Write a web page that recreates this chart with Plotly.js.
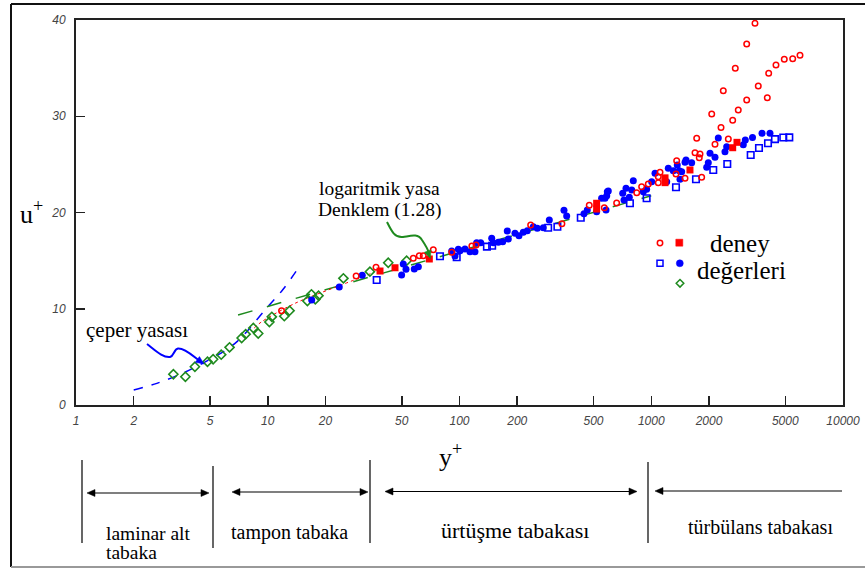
<!DOCTYPE html>
<html>
<head>
<meta charset="utf-8">
<script src="https://cdn.plot.ly/plotly-3.0.1.min.js"></script>
<style>html,body{margin:0;padding:0;background:#fff}</style>
</head>
<body>
<div id="chart" style="width:865px;height:569px"></div>
<script>
// ---- data (y+, u+) ----
const xTickVals = [1, 2, 5, 10, 20, 50, 100, 200, 500, 1000, 2000, 5000, 10000];
const xTickText = ["1", "2", "5", "10", "20", "50", "100", "200", "500", "1000", "2000", "5000", "10000"];
const yTickVals = [0, 10, 20, 30, 40];

const wallLawX = [2.0, 2.64, 3.5, 4.6, 6.75, 9.67, 12.0, 14.4];
const wallLawY = [1.56, 2.25, 3.2, 4.36, 6.41, 9.87, 12.0, 14.2];

const logLawX = [7.0, 1000];
const logLawY = [9.35, 21.75];

const redDashX = [8.5, 9.3, 13.9, 23, 35];
const redDashY = [8.0, 8.65, 10.57, 12.3, 13.7];

const greenX = [3.22, 3.72, 4.17, 4.85, 5.19, 5.72, 6.32, 7.31, 7.67, 8.41, 8.92, 10.2, 10.5, 12.2, 13.0, 16.1, 16.9, 17.7, 18.4, 24.8, 34.1, 42.5, 53.0];
const greenY = [3.19, 2.94, 3.97, 4.49, 4.75, 5.23, 5.99, 6.96, 7.36, 8.0, 7.43, 8.62, 9.16, 9.23, 9.8, 10.8, 11.5, 10.98, 11.36, 13.16, 13.85, 14.78, 14.99];

const blueFillX = [16.95, 23.6, 31.1, 49.9, 50.9, 52.6, 58.1, 61.0, 91.1, 94.7, 98.6, 100.6, 106.8, 113.4, 120.4, 122.9, 129, 147.2, 150, 159.4, 168, 177.5, 179.7, 194.7, 204.3, 215.1, 225.7, 242.6, 254.5, 273.5, 294, 350.7, 362.2, 445.9, 463.9, 519, 551, 586, 597, 581, 574, 590, 710, 738.5, 806, 791, 768.5, 721, 909, 946, 1005, 1046, 1204, 1227, 1303, 1367, 1400, 1441, 1412, 1500, 1518, 1625, 1946, 1984, 2025, 2150, 2237, 2424, 2474, 3020, 3094, 3373, 3781, 4161];
const blueFillY = [10.91, 12.26, 13.47, 13.51, 14.65, 14.1, 14.13, 14.37, 16.0, 15.48, 16.18, 16.03, 16.21, 15.93, 15.93, 16.86, 16.86, 17.32, 16.86, 16.9, 16.97, 18.08, 17.25, 17.84, 17.59, 17.94, 18.11, 18.52, 18.36, 18.42, 19.22, 20.23, 19.64, 19.88, 20.26, 20.08, 21.48, 21.75, 22.23, 20.26, 21.48, 22.16, 22.0, 22.51, 23.3, 22.34, 21.58, 21.3, 22.16, 22.41, 23.2, 24.07, 23.2, 24.59, 24.34, 24.94, 24.34, 24.24, 23.45, 25.22, 25.45, 25.17, 24.7, 25.17, 26.15, 25.74, 27.74, 26.32, 26.84, 27.04, 27.53, 27.79, 28.23, 28.23];

const blueOpenX = [37.0, 79.1, 96.7, 139, 148, 290, 324, 429, 774, 946, 1346, 1711, 2106, 2492, 3301, 3646, 4063, 4418, 4882, 5248];
const blueOpenY = [12.99, 15.45, 15.35, 16.45, 16.55, 18.42, 18.52, 19.46, 20.96, 21.48, 22.62, 23.45, 24.42, 25.04, 25.97, 26.7, 27.19, 27.62, 27.79, 27.81];

const redOpenX = [11.8, 28.9, 36.7, 57.4, 61.7, 64.7, 73.0, 91.1, 116, 122, 235, 342, 475, 569, 660, 840, 891, 965, 1088, 1088, 1111, 1346, 1357, 1500, 1691, 1796, 1780, 1832, 1726, 2067, 2150, 2311, 2375, 2523, 2659, 2743, 2843, 3146, 3146, 3475, 3615, 4029, 4097, 4472, 4940, 5466, 5967];
const redOpenY = [9.8, 13.4, 14.31, 15.24, 15.51, 15.51, 16.14, 15.86, 16.52, 16.62, 18.7, 18.84, 20.75, 20.5, 20.99, 22.06, 22.68, 22.96, 23.1, 23.72, 24.18, 24.0, 25.38, 23.55, 26.21, 26.08, 25.69, 23.66, 27.71, 30.23, 27.09, 28.83, 32.65, 27.64, 29.58, 34.98, 30.65, 37.5, 31.69, 39.66, 33.14, 31.93, 34.46, 35.32, 35.92, 35.98, 36.33];

const redFillX = [38.5, 46.1, 69.6, 519, 519, 1180, 1180, 1592, 2659, 2800];
const redFillY = [13.92, 14.26, 15.17, 20.96, 20.36, 23.6, 23.1, 24.42, 26.73, 27.29];

// ---- layout geometry (pixels of the 865x569 page) ----
const W = 865, H = 569;
const L = 76, R = 843, T = 20, B = 405;
const px = x => (x - L) / (R - L);
const py = y => (B - y) / (B - T);

const RED = '#ff0000', BLUE = '#0000ff', GREEN = '#1e8a1e';

function pathPx(cmds) {
  return cmds.map(c => {
    const op = c[0];
    const nums = [];
    for (let i = 1; i < c.length; i += 2) nums.push(px(c[i]).toFixed(5) + ',' + py(c[i + 1]).toFixed(5));
    return op + nums.join(' ');
  }).join(' ');
}
function head(tipX, tipY, dx, dy, len, hw) {
  const n = Math.hypot(dx, dy); dx /= n; dy /= n;
  const bx = tipX - len * dx, by = tipY - len * dy;
  return pathPx([['M', tipX, tipY], ['L', bx - hw * dy, by + hw * dx], ['L', bx + hw * dy, by - hw * dx], ['Z']]);
}
const shapes = [];
function addLine(x0, y0, x1, y1, color, width) {
  shapes.push({type: 'line', xref: 'paper', yref: 'paper', x0: px(x0), y0: py(y0), x1: px(x1), y1: py(y1), line: {color: color, width: width}});
}
function addPath(d, color, width, fill) {
  shapes.push({type: 'path', xref: 'paper', yref: 'paper', path: d, line: {color: color, width: width}, fillcolor: fill || 'rgba(0,0,0,0)'});
}

// outer frame
addLine(11, 4, 865, 4, '#111', 2);
addLine(11, 4, 11, 567, '#111', 2);
addLine(11, 567, 865, 567, '#999', 2);

// region separators
addLine(82, 460, 82, 543, '#000', 1.2);
addLine(213, 466, 213, 548, '#000', 1.2);
addLine(370, 460, 370, 543, '#000', 1.2);
addLine(648, 462, 648, 543, '#000', 1.2);

// region arrows
function dblArrow(x0, x1, y) {
  addLine(x0 + 4, y, x1 - 4, y, '#000', 1.2);
  addPath(head(x0, y, -1, 0, 8, 3.5), '#000', 0.5, '#000');
  addPath(head(x1, y, 1, 0, 8, 3.5), '#000', 0.5, '#000');
}
dblArrow(87, 209, 493);
dblArrow(232, 368, 492);
dblArrow(385, 637, 491.5);
addLine(659, 491, 842, 491, '#000', 1.2);
addPath(head(655, 491, -1, 0, 8, 3.5), '#000', 0.5, '#000');

// curvy pointer for wall law
addPath(pathPx([['M', 147, 344], ['C', 155, 350, 163, 358, 170, 357], ['C', 174, 356, 174, 349, 178, 348.5], ['C', 185, 348, 193, 356, 199, 360.5]]), BLUE, 2);
addPath(head(204, 364, 10, 7, 8, 3.5), BLUE, 0.5, BLUE);
// curvy pointer for log law
addPath(pathPx([['M', 387, 222], ['C', 392, 232, 395, 238, 403, 237], ['C', 410, 236, 418, 233, 422, 240], ['C', 426, 246, 428, 250, 428.5, 252]]), GREEN, 2);
addPath(head(430.5, 258.5, 5, 13, 8, 3.5), GREEN, 0.5, GREEN);

// legend symbols
shapes.push({type: 'circle', xref: 'paper', yref: 'paper', x0: px(657.3), x1: px(662.7), y0: py(245.7), y1: py(240.3), line: {color: RED, width: 1.5}});
shapes.push({type: 'rect', xref: 'paper', yref: 'paper', x0: px(675.8), x1: px(682.8), y0: py(246.2), y1: py(239.2), line: {color: RED, width: 0.5}, fillcolor: RED});
shapes.push({type: 'rect', xref: 'paper', yref: 'paper', x0: px(657), x1: px(663), y0: py(266.3), y1: py(260.3), line: {color: BLUE, width: 1.5}});
shapes.push({type: 'circle', xref: 'paper', yref: 'paper', x0: px(676.3), x1: px(683.3), y0: py(266.8), y1: py(259.8), line: {color: BLUE, width: 0.5}, fillcolor: BLUE});
addPath(pathPx([['M', 680, 279.5], ['L', 683.8, 283.3], ['L', 680, 287.1], ['L', 676.2, 283.3], ['Z']]), GREEN, 1.5);

const serif = 'Liberation Serif, Times New Roman, serif';
function txt(text, x, y, size, xanchor) {
  return {text: text, xref: 'paper', yref: 'paper', x: px(x), y: py(y), xanchor: xanchor || 'left', yanchor: 'middle', showarrow: false, font: {family: serif, size: size, color: '#000'}};
}
const annotations = [
  txt('u<sup>+</sup>', 18, 212, 26),
  txt('y<sup>+</sup>', 437, 455, 26),
  txt('çeper yasası', 84, 330, 21),
  txt('logaritmik yasa', 379.5, 188, 19.5, 'center'),
  txt('Denklem (1.28)', 379.5, 210, 19.5, 'center'),
  txt('deney', 740, 243, 25, 'center'),
  txt('değerleri', 741, 270, 25, 'center'),
  txt('laminar alt', 104, 533, 19.5),
  txt('tabaka', 104, 552, 19.5),
  txt('tampon tabaka', 229, 532, 20),
  txt('ürtüşme tabakası', 439, 530, 22),
  txt('türbülans tabakası', 686, 527, 20)
];

const traces = [
  {x: wallLawX, y: wallLawY, mode: 'lines', line: {color: BLUE, width: 1.5, dash: 'dash', shape: 'spline'}},
  {x: logLawX, y: logLawY, mode: 'lines', line: {color: GREEN, width: 1.5, dash: 'longdash'}},
  {x: redDashX, y: redDashY, mode: 'lines', line: {color: RED, width: 1, dash: 'dot', shape: 'spline'}},
  {x: greenX, y: greenY, mode: 'markers', marker: {symbol: 'diamond-open', size: 7, color: GREEN, line: {width: 1.6, color: GREEN}}},
  {x: blueFillX, y: blueFillY, mode: 'markers', marker: {symbol: 'circle', size: 7, color: BLUE}},
  {x: blueOpenX, y: blueOpenY, mode: 'markers', marker: {symbol: 'square-open', size: 6.5, color: BLUE, line: {width: 1.6, color: BLUE}}},
  {x: redOpenX, y: redOpenY, mode: 'markers', marker: {symbol: 'circle-open', size: 5.5, color: RED, line: {width: 1.5, color: RED}}},
  {x: redFillX, y: redFillY, mode: 'markers', marker: {symbol: 'square', size: 7, color: RED}}
];

const tickFont = {family: 'Liberation Sans, Arial, sans-serif', size: 12, style: 'italic', color: '#444'};
const layout = {
  width: W, height: H,
  margin: {l: L, r: W - R, t: T, b: H - B, pad: 0},
  paper_bgcolor: '#fff', plot_bgcolor: '#fff',
  showlegend: false,
  xaxis: {type: 'log', range: [0, 4], tickmode: 'array', tickvals: xTickVals, ticktext: xTickText,
    ticks: 'inside', ticklen: 9, tickwidth: 1.5, tickcolor: '#222', showline: true, linecolor: '#222', linewidth: 2,
    mirror: true, showgrid: false, zeroline: false, tickfont: tickFont, ticklabelstandoff: 4},
  yaxis: {range: [0, 40], tickmode: 'array', tickvals: yTickVals,
    ticks: 'inside', ticklen: 9, tickwidth: 1.5, tickcolor: '#222', showline: true, linecolor: '#222', linewidth: 2,
    mirror: true, showgrid: false, zeroline: false, tickfont: tickFont, ticklabelstandoff: 6},
  shapes: shapes,
  annotations: annotations
};
Plotly.newPlot('chart', traces, layout, {staticPlot: true, displayModeBar: false});
</script>
</body>
</html>
